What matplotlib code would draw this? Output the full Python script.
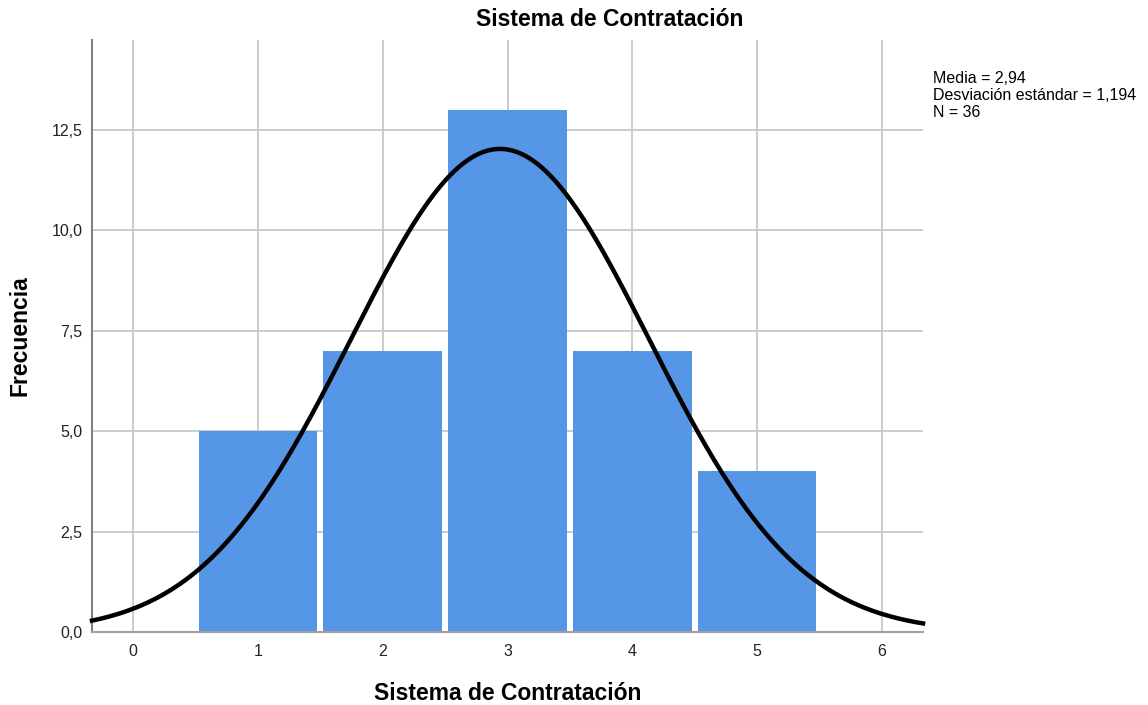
import numpy as np
import matplotlib
matplotlib.use('Agg')
import matplotlib.pyplot as plt

plt.rcParams['font.family'] = ['Liberation Sans', 'DejaVu Sans']

# Data
categories = [1, 2, 3, 4, 5]
counts = [5, 7, 13, 7, 4]
mean_val = 2.94
std_val = 1.194
n_val = 36
y_ticks = [0.0, 2.5, 5.0, 7.5, 10.0, 12.5]
x_ticks = [0, 1, 2, 3, 4, 5, 6]
title = 'Sistema de Contratación'


def fmt_comma(v, decimals=1):
    return f'{v:.{decimals}f}'.replace('.', ',')


fig = plt.figure(figsize=(11.48, 7.05), dpi=100)
# axes box in pixels: left 92, right 923, top 40, bottom 632
ax_w = 923 - 92
ax_h = 632 - 40
ax = fig.add_axes([92 / 1148, 1 - 632 / 705, ax_w / 1148, ax_h / 705])

# Histogram bars
ax.bar(categories, counts, width=0.95, color='#5596e6', linewidth=0, zorder=2)

# Normal curve scaled to counts (bin width 1)
xs = np.linspace(-0.33, 6.33, 400)
curve = n_val / (std_val * np.sqrt(2 * np.pi)) * np.exp(-0.5 * ((xs - mean_val) / std_val) ** 2)
ax.plot(xs, curve, color='black', linewidth=3.2, zorder=3, clip_on=False)

ax.set_xlim(-0.33, 6.33)
ax.set_ylim(0, 14.74)
ax.set_xticks(x_ticks)
ax.set_xticklabels([str(t) for t in x_ticks], fontsize=11.5, color='#222222')
ax.set_yticks(y_ticks)
ax.set_yticklabels([fmt_comma(t) for t in y_ticks], fontsize=11.5, color='#222222')
ax.tick_params(axis='x', length=0, pad=9)
ax.tick_params(axis='y', length=0, pad=7)

ax.grid(True, color='#c8c8c8', linewidth=1.3, zorder=0)
ax.set_axisbelow(True)
for side in ['top', 'right']:
    ax.spines[side].set_visible(False)
ax.spines['left'].set_color('#808080')
ax.spines['left'].set_linewidth(1.5)
ax.spines['bottom'].set_color('#a0a0a0')
ax.spines['bottom'].set_linewidth(1.5)

ax.set_xlabel(title, fontsize=16.5, fontweight='bold', va='center')
ax.xaxis.set_label_coords(0.5, -(693 - 632) / ax_h)
ax.set_ylabel('Frecuencia', fontsize=16.5, fontweight='bold', va='center')
ax.yaxis.set_label_coords((20 - 92) / ax_w, 0.5)

fig.text(610 / 1148, 1 - 20 / 705, title, fontsize=16.5, fontweight='bold',
         ha='center', va='center')

stats_text = (f'Media = {fmt_comma(mean_val, 2)}\n'
              f'Desviación estándar = {fmt_comma(std_val, 3)}\n'
              f'N = {n_val}')
fig.text(933 / 1148, 1 - 71 / 705, stats_text, fontsize=11.5, ha='left', va='top',
         linespacing=1.15)

fig.savefig('out.png', dpi=100)
